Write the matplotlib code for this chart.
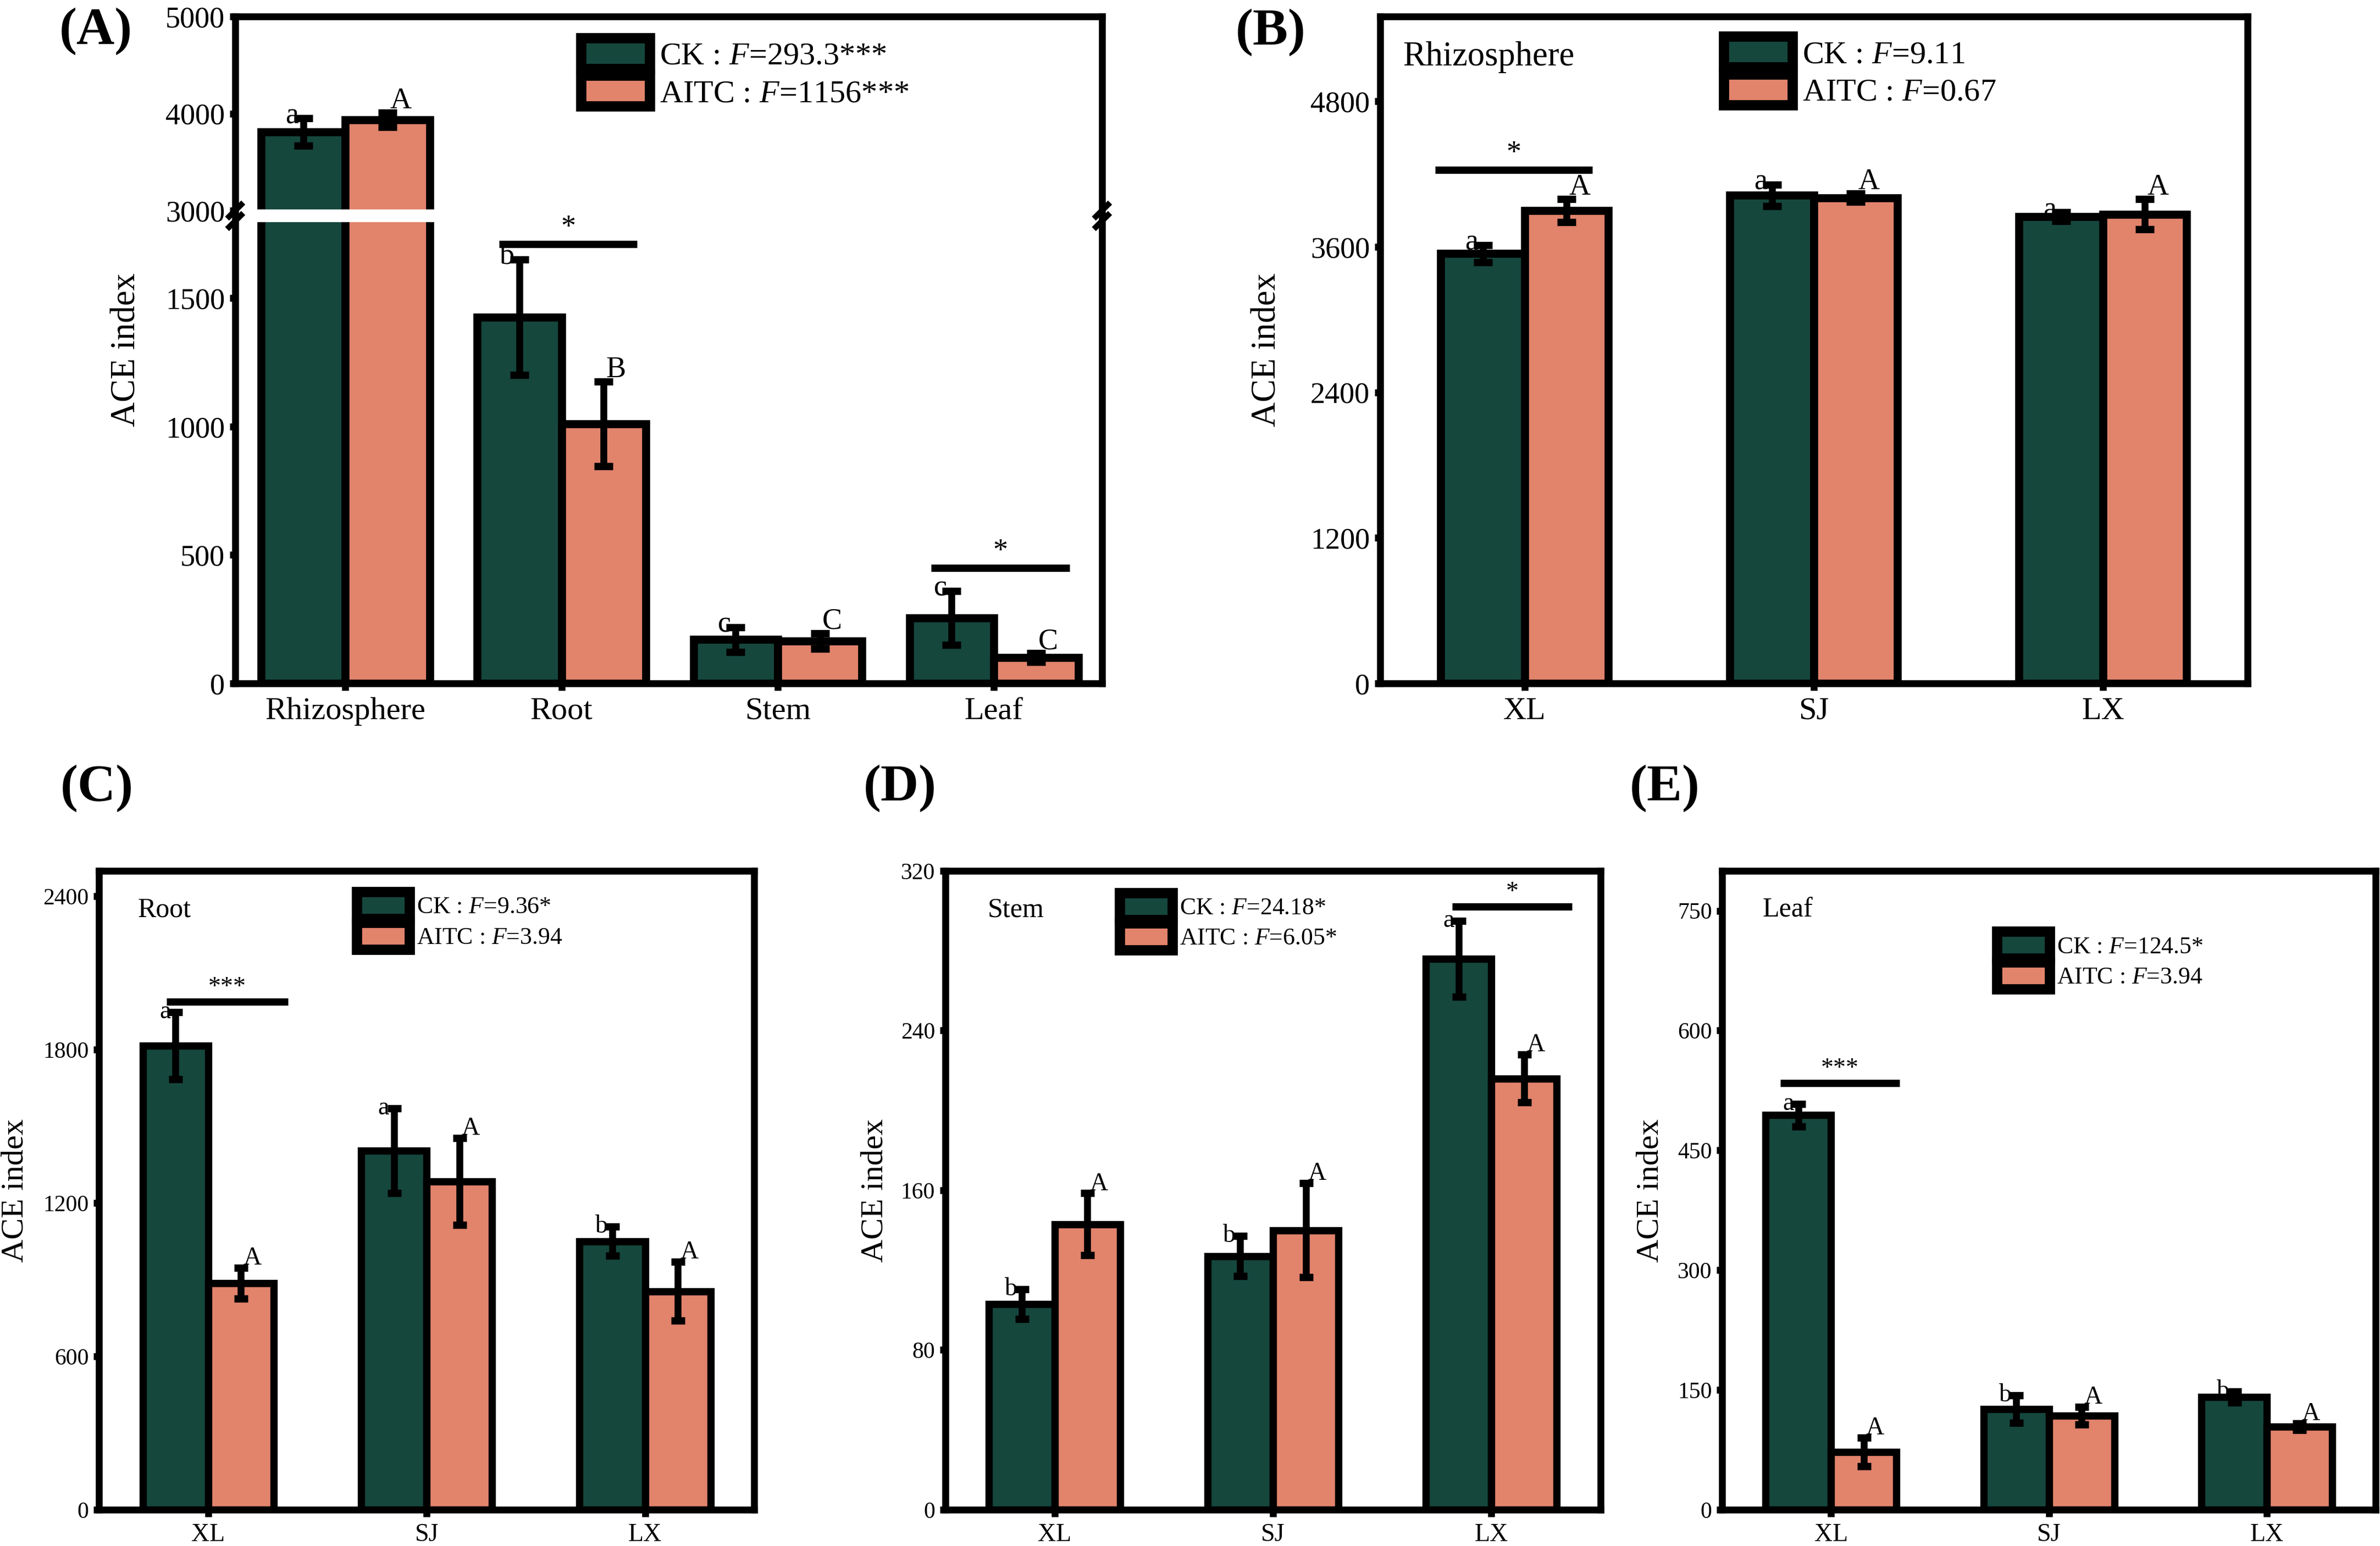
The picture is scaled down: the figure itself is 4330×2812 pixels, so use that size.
import numpy as np
import matplotlib
matplotlib.use("Agg")
import matplotlib.pyplot as plt
from matplotlib.patches import Patch

plt.rcParams["font.family"] = "Liberation Serif"
plt.rcParams["mathtext.fontset"] = "custom"
plt.rcParams["mathtext.rm"] = "Liberation Serif"
plt.rcParams["mathtext.it"] = "Liberation Serif:italic"

GREEN = "#15473d"
SALMON = "#e2836c"

# ---- data ----
tissues = ["Rhizosphere", "Root", "Stem", "Leaf"]
sites = ["XL", "SJ", "LX"]

# (A) all tissues
a_ck = [3810, 1425, 170, 255]
a_ck_err = [140, 225, 48, 105]
a_aitc = [3935, 1010, 165, 100]
a_aitc_err = [75, 165, 30, 17]
a_ck_let = ["a", "b", "c", "c"]
a_aitc_let = ["A", "B", "C", "C"]

# (B) rhizosphere
b_ck = [3545, 4025, 3850]
b_ck_err = [70, 88, 35]
b_aitc = [3900, 4005, 3870]
b_aitc_err = [95, 35, 125]
b_ck_let = ["a", "a", "a"]
b_aitc_let = ["A", "A", "A"]

# (C) root
c_ck = [1815, 1405, 1050]
c_ck_err = [131, 165, 57]
c_aitc = [887, 1285, 855]
c_aitc_err = [60, 170, 116]
c_ck_let = ["a", "a", "b"]
c_aitc_let = ["A", "A", "A"]

# (D) stem
d_ck = [103, 127, 276]
d_ck_err = [7.5, 10, 19]
d_aitc = [143, 140, 216]
d_aitc_err = [15.5, 23.5, 12]
d_ck_let = ["b", "b", "a"]
d_aitc_let = ["A", "A", "A"]

# (E) leaf
e_ck = [494, 126, 141]
e_ck_err = [14, 17, 7]
e_aitc = [72, 118, 104]
e_aitc_err = [18, 11, 4]
e_ck_let = ["a", "b", "b"]
e_aitc_let = ["A", "A", "A"]

legend_a = ["CK : $F$=293.3***", "AITC : $F$=1156***"]
legend_b = ["CK : $F$=9.11", "AITC : $F$=0.67"]
legend_c = ["CK : $F$=9.36*", "AITC : $F$=3.94"]
legend_d = ["CK : $F$=24.18*", "AITC : $F$=6.05*"]
legend_e = ["CK : $F$=124.5*", "AITC : $F$=3.94"]

# significance between CK and AITC: (category, height, stars)
sig_a = [(1, 1710, "*"), (3, 450, "*")]
sig_b = [(0, 4233, "*")]
sig_c = [(0, 1987, "***")]
sig_d = [(2, 302, "*")]
sig_e = [(0, 534, "***")]

# ---- broken y scale for panel A ----
LOW_TOP, HIGH_BOT, HIGH_TOP = 1800, 3000, 5000
F_LOW, F_GAP = 0.6933, 0.0157
F_HIGH = 1 - F_LOW - F_GAP


def fwd(y):
    y = np.asarray(y, dtype=float)
    return np.where(y <= LOW_TOP, y / LOW_TOP * F_LOW,
                    np.where(y <= HIGH_BOT,
                             F_LOW + (y - LOW_TOP) / (HIGH_BOT - LOW_TOP) * F_GAP,
                             F_LOW + F_GAP + (y - HIGH_BOT) / (HIGH_TOP - HIGH_BOT) * F_HIGH))


def inv(t):
    t = np.asarray(t, dtype=float)
    return np.where(t <= F_LOW, t / F_LOW * LOW_TOP,
                    np.where(t <= F_LOW + F_GAP,
                             LOW_TOP + (t - F_LOW) / F_GAP * (HIGH_BOT - LOW_TOP),
                             HIGH_BOT + (t - F_LOW - F_GAP) / F_HIGH * (HIGH_TOP - HIGH_BOT)))


def draw_bars(ax, cats, ck, ck_err, aitc, aitc_err, ck_let, aitc_let,
              w, lw, cap, fs_let):
    x = np.arange(len(cats))
    ax.bar(x - w / 2, ck, w, color=GREEN, edgecolor="black", linewidth=lw, zorder=2)
    ax.bar(x + w / 2, aitc, w, color=SALMON, edgecolor="black", linewidth=lw, zorder=2)
    for xs, m, e in [(x - w / 2, ck, ck_err), (x + w / 2, aitc, aitc_err)]:
        ax.errorbar(xs, m, yerr=e, fmt="none", ecolor="black", elinewidth=3,
                    capsize=cap, capthick=3.2, zorder=4)
    for i in range(len(cats)):
        ax.annotate(ck_let[i], (x[i] - w / 2, ck[i] + ck_err[i]), xytext=(-2, -5),
                    textcoords="offset points", ha="right", va="bottom",
                    fontsize=fs_let, zorder=6)
        ax.annotate(aitc_let[i], (x[i] + w / 2, aitc[i] + aitc_err[i]), xytext=(1, -1),
                    textcoords="offset points", ha="left", va="bottom",
                    fontsize=fs_let, zorder=6)


def draw_sig(ax, sig, lo, hi, fs):
    for i, y, s in sig:
        ax.plot([i + lo, i + hi], [y, y], color="black", lw=3.2, zorder=4,
                solid_capstyle="butt")
        ax.annotate(s, ((2 * i + lo + hi) / 2, y), xytext=(0, 1),
                    textcoords="offset points", ha="center", va="bottom",
                    fontsize=fs, zorder=8)


def style(ax, cats, ylim, yticks, fs_tick, fs_xtick, label_x, fs_label):
    ax.set_xlim(-0.5, len(cats) - 0.5)
    ax.set_xticks(range(len(cats)), cats, fontsize=fs_xtick)
    ax.set_ylim(*ylim)
    ax.set_yticks(yticks)
    ax.tick_params(axis="y", direction="out", length=2.5, width=3,
                   labelsize=fs_tick, pad=2)
    ax.tick_params(axis="x", direction="out", length=3, width=3, pad=3)
    for sp in ax.spines.values():
        sp.set_linewidth(3)
        sp.set_zorder(5)
    ax.set_ylabel("ACE index", fontsize=fs_label)
    ax.yaxis.set_label_coords(label_x, 0.5)


def add_legend(ax, labels, anchor, fs, hl, hh):
    handles = [Patch(facecolor=GREEN, edgecolor="black", linewidth=4.5, joinstyle="round"),
               Patch(facecolor=SALMON, edgecolor="black", linewidth=4.5, joinstyle="round")]
    ax.legend(handles, labels, loc="upper left", bbox_to_anchor=anchor, frameon=False,
              fontsize=fs, handlelength=hl, handleheight=hh, handletextpad=0.3,
              labelspacing=0.15, borderpad=0, borderaxespad=0)


fig = plt.figure(figsize=(4330 / 300, 2812 / 300), dpi=300)
axA = fig.add_axes([0.0988, 0.558, 0.3642, 0.4313])
axB = fig.add_axes([0.5799, 0.558, 0.3644, 0.4313])
axC = fig.add_axes([0.0416, 0.0235, 0.2753, 0.4132])
axD = fig.add_axes([0.3972, 0.0235, 0.2753, 0.4132])
axE = fig.add_axes([0.7236, 0.0235, 0.2746, 0.4132])

# ---- (A) ----
draw_bars(axA, tissues, a_ck, a_ck_err, a_aitc, a_aitc_err, a_ck_let, a_aitc_let,
          0.39, 3.5, 4, 13)
draw_sig(axA, sig_a, -0.29, 0.35, 13)
axA.set_yscale("function", functions=(fwd, inv))
style(axA, tissues, (0, 5000), [0, 500, 1000, 1500, 3000, 4000, 5000], 13, 14, -0.107, 15)
axA.set_xlim(-0.51, 3.5)
axA.axhspan(LOW_TOP, HIGH_BOT, color="white", zorder=3)
for xs in (0, 1):
    for yb in (F_LOW, F_LOW + F_GAP):
        axA.plot([xs - 0.007, xs + 0.007], [yb - 0.009, yb + 0.009],
                 transform=axA.transAxes, color="black", lw=2.5, clip_on=False, zorder=7)
add_legend(axA, legend_a, (0.399, 0.968), 14, 2.15, 1.1)

# ---- (B) ----
draw_bars(axB, sites, b_ck, b_ck_err, b_aitc, b_aitc_err, b_ck_let, b_aitc_let,
          0.29, 3.5, 4, 13)
draw_sig(axB, sig_b, -0.31, 0.234, 13)
style(axB, sites, (0, 5500), [0, 1200, 2400, 3600, 4800], 13, 14, -0.112, 15)
axB.text(0.026, 0.939, "Rhizosphere", transform=axB.transAxes, fontsize=15,
         ha="left", va="center")
add_legend(axB, legend_b, (0.396, 0.97), 14, 2.15, 1.1)

# ---- (C) ----
draw_bars(axC, sites, c_ck, c_ck_err, c_aitc, c_aitc_err, c_ck_let, c_aitc_let,
          0.30, 3.2, 3, 11)
draw_sig(axC, sig_c, -0.19, 0.365, 11)
style(axC, sites, (0, 2500), [0, 600, 1200, 1800, 2400], 10, 11, -0.106, 14)
axC.text(0.059, 0.939, "Root", transform=axC.transAxes, fontsize=12,
         ha="left", va="center")
add_legend(axC, legend_c, (0.393, 0.967), 10.5, 2.2, 1.35)

# ---- (D) ----
draw_bars(axD, sites, d_ck, d_ck_err, d_aitc, d_aitc_err, d_ck_let, d_aitc_let,
          0.30, 3.2, 3, 11)
draw_sig(axD, sig_d, -0.18, 0.37, 11)
style(axD, sites, (0, 320), [0, 80, 160, 240, 320], 10, 11, -0.086, 14)
axD.text(0.064, 0.939, "Stem", transform=axD.transAxes, fontsize=12,
         ha="left", va="center")
add_legend(axD, legend_d, (0.266, 0.966), 10.5, 2.2, 1.35)

# ---- (E) ----
draw_bars(axE, sites, e_ck, e_ck_err, e_aitc, e_aitc_err, e_ck_let, e_aitc_let,
          0.30, 3.2, 3, 11)
draw_sig(axE, sig_e, -0.234, 0.314, 11)
style(axE, sites, (0, 800), [0, 150, 300, 450, 600, 750], 10, 11, -0.088, 14)
axE.text(0.062, 0.939, "Leaf", transform=axE.transAxes, fontsize=12,
         ha="left", va="center")
add_legend(axE, legend_e, (0.42, 0.905), 10.5, 2.2, 1.35)

# panel letters
for lab, xx, yy in [("(A)", 0.025, 0.980), ("(B)", 0.519, 0.979), ("(C)", 0.0254, 0.49),
                    ("(D)", 0.3628, 0.49), ("(E)", 0.6848, 0.49)]:
    fig.text(xx, yy, lab, fontsize=23, fontweight="bold", ha="left", va="center")

fig.savefig("out.png", dpi=300)
